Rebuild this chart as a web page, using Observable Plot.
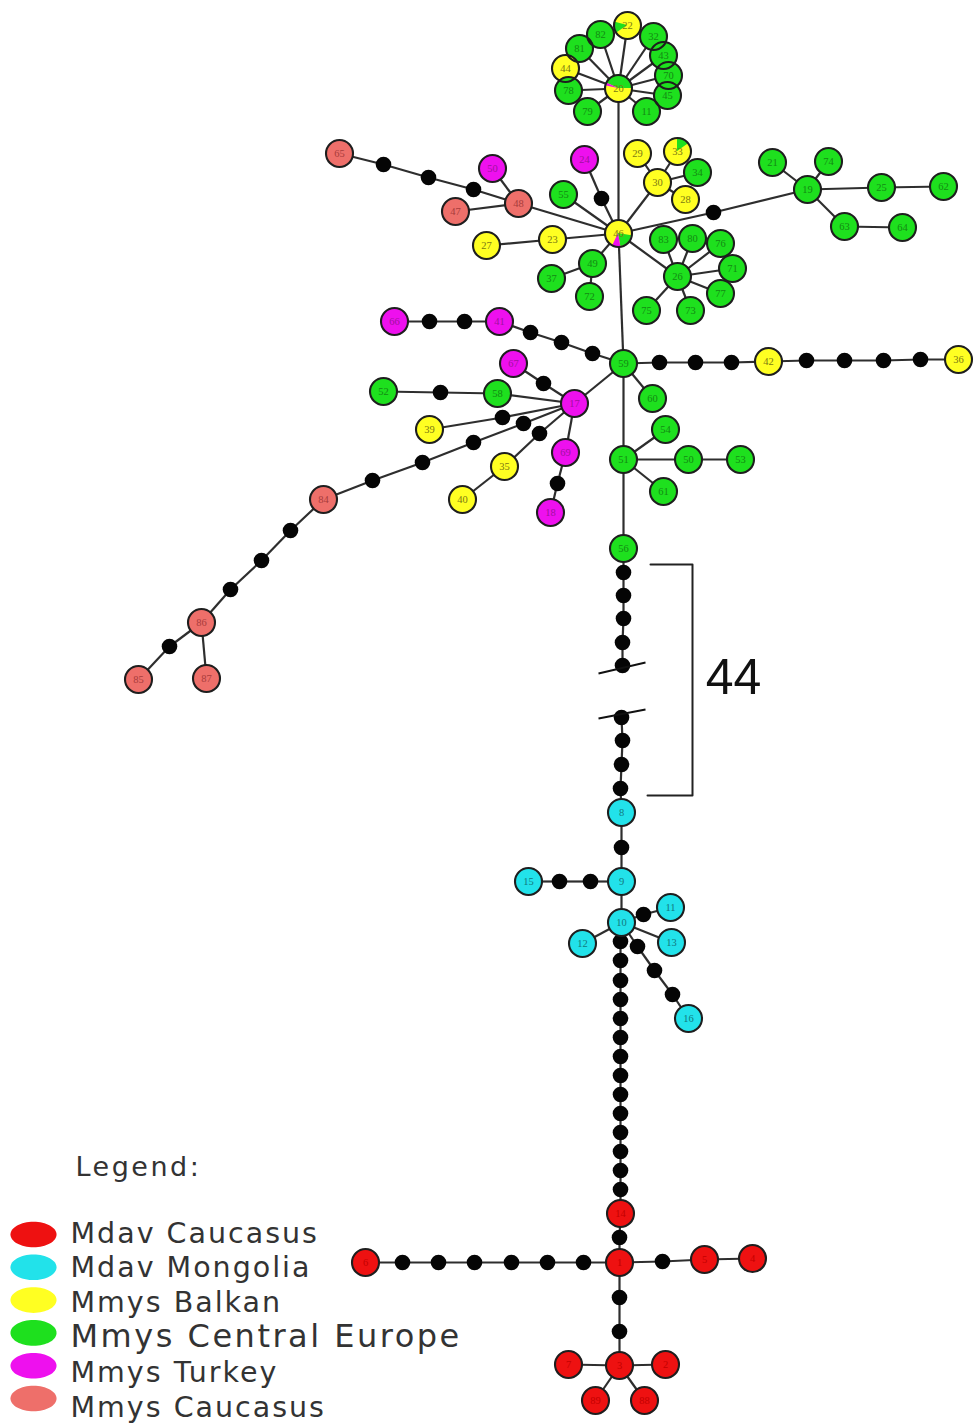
<!DOCTYPE html>
<html><head><meta charset="utf-8">
<script src="https://cdn.jsdelivr.net/npm/d3@7"></script>
<script src="https://cdn.jsdelivr.net/npm/@observablehq/plot@0.6"></script>
<style>body{margin:0;background:#fff}</style>
</head><body><div id="chart"></div>
<script>
// ---- data ----
const groups = ["Mdav Caucasus","Mdav Mongolia","Mmys Balkan","Mmys Central Europe","Mmys Turkey","Mmys Caucasus"];
const groupCodes = ["MC","MM","B","CE","T","C"];
const groupColors = ["#ee1111","#22e2ea","#ffff22","#1ee01e","#ee10ee","#ee6f6a"];
const labelColors = ["#c40000","#127a80","#7c7a12","#138a13","#a010a0","#a83c3c"];

// haplotypes: [id, label, group, x, y]  (layout coordinates)
const haplotypes = [
 ["20","20","B",618,88],["22","22","B",627,25],["82","82","CE",600,34],["81","81","CE",579,48],
 ["44","44","B",565,68],["78","78","CE",568,90],["79","79","CE",587,111],["11g","11","CE",646,111],
 ["45","45","CE",667,95],["70","70","CE",668,75],["43","43","CE",663,55],["32","32","CE",653,36],
 ["46","46","B",618,233],["65","65","C",339,153],["48","48","C",518,203],["50t","50","T",492,168],
 ["47","47","C",455,211],["24","24","T",584,159],["55","55","CE",563,194],["23","23","B",552,239],
 ["27","27","B",486,245],["49","49","CE",592,263],["37","37","CE",551,278],["72","72","CE",589,296],
 ["29","29","B",637,153],["33","33","B",677,151],["30","30","B",657,182],["34","34","CE",697,172],
 ["28","28","B",685,199],["19","19","CE",807,189],["21","21","CE",772,162],["74","74","CE",828,161],
 ["25","25","CE",881,187],["62","62","CE",943,186],["63","63","CE",844,226],["64","64","CE",902,227],
 ["26","26","CE",677,276],["83","83","CE",663,239],["80","80","CE",692,238],["76","76","CE",720,243],
 ["71","71","CE",732,268],["77","77","CE",720,293],["75","75","CE",646,310],["73","73","CE",690,310],
 ["66","66","T",394,321],["41","41","T",499,321],["59","59","CE",623,363],["42","42","B",768,361],
 ["36","36","B",958,359],["60","60","CE",652,398],["67","67","T",513,363],["17","17","T",574,403],
 ["52","52","CE",383,391],["58","58","CE",497,393],["39","39","B",429,429],["35","35","B",504,466],
 ["40","40","B",462,499],["69","69","T",565,452],["18","18","T",550,512],["51","51","CE",623,459],
 ["54","54","CE",665,429],["50","50","CE",688,459],["53","53","CE",740,459],["61","61","CE",663,491],
 ["56","56","CE",623,548],["84","84","C",323,499],["86","86","C",201,622],["85","85","C",138,679],
 ["87","87","C",206,678],
 ["8","8","MM",621,812],["9","9","MM",621,881],["15","15","MM",528,881],["10","10","MM",621,922],
 ["11","11","MM",670,907],["13","13","MM",671,942],["12","12","MM",582,943],["16","16","MM",688,1018],
 ["14","14","MC",620,1213],["1","1","MC",619,1262],["6","6","MC",365,1262],["5","5","MC",704,1259],
 ["4","4","MC",752,1258],["3","3","MC",619,1365],["7","7","MC",568,1364],["2","2","MC",665,1364],
 ["89","89","MC",595,1400],["88","88","MC",644,1400]
];

// median vectors (missing intermediate haplotypes): [id, x, y]
const medianVectors = [
 ["a1",383,164],["a2",428,177],["a3",473,189],["a4",601,198],["a5",713,212],
 ["b1",429,321],["b2",464,321],["b3",530,332],["b4",561,342],["b5",592,353],
 ["c1",659,362],["c2",695,362],["c3",731,362],["c4",806,360],["c5",844,360],["c6",883,360],["c7",920,359],
 ["d1",543,383],["d2",440,392],["d3",502,417],["d5",539,433],["d6",557,483],
 ["e1",523,423],["e2",473,442],["e3",422,462],["e4",372,480],
 ["f1",290,530],["f2",261,560],["f3",230,589],["f4",169,646],
 ["g1",623,572],["g2",623,595],["g3",623,618],["g4",622,642],["g5",622,665],
 ["g6",621,717],["g7",622,740],["g8",621,764],["g9",620,788],
 ["h1",621,847],["h2",590,881],["h3",559,881],["h4",643,914],["h5",637,946],["h6",654,970],["h7",672,994],
 ["v1",620,941],["v2",620,960],["v3",620,980],["v4",620,999],["v5",620,1018],["v6",620,1037],["v7",620,1056],
 ["v8",620,1075],["v9",620,1094],["v10",620,1113],["v11",620,1132],["v12",620,1151],["v13",620,1170],["v14",620,1189],
 ["k1",619,1237],["l1",583,1262],["l2",547,1262],["l3",511,1262],["l4",474,1262],["l5",438,1262],["l6",402,1262],
 ["k2",662,1261],["k3",619,1297],["k4",619,1331]
];

// network edges
const edges = [
 ["20","22"],["20","82"],["20","81"],["20","44"],["20","78"],["20","79"],["20","11g"],["20","45"],["20","70"],["20","43"],["20","32"],["20","46"],
 ["65","a1"],["a1","a2"],["a2","a3"],["a3","48"],["48","50t"],["48","47"],["48","46"],["24","a4"],["a4","46"],
 ["55","46"],["23","46"],["27","23"],["49","46"],["37","49"],["72","49"],
 ["29","30"],["33","30"],["34","30"],["28","30"],["30","46"],["46","a5"],["a5","19"],["19","21"],["19","74"],
 ["19","25"],["25","62"],["19","63"],["63","64"],
 ["26","46"],["26","83"],["26","80"],["26","76"],["26","71"],["26","77"],["26","75"],["26","73"],
 ["46","59"],["66","b1"],["b1","b2"],["b2","41"],["41","b3"],["b3","b4"],["b4","b5"],["b5","59"],
 ["59","c1"],["c1","c2"],["c2","c3"],["c3","42"],["42","c4"],["c4","c5"],["c5","c6"],["c6","c7"],["c7","36"],
 ["59","60"],["59","17"],["67","d1"],["d1","17"],["52","d2"],["d2","58"],["58","17"],["39","d3"],["d3","17"],
 ["17","e1"],["e1","e2"],["e2","e3"],["e3","e4"],["e4","84"],["84","f1"],["f1","f2"],["f2","f3"],["f3","86"],
 ["86","f4"],["f4","85"],["86","87"],["17","d5"],["d5","35"],["35","40"],["17","69"],["69","d6"],["d6","18"],
 ["59","51"],["51","54"],["51","50"],["50","53"],["51","61"],["51","56"],
 ["56","g1"],["g1","g2"],["g2","g3"],["g3","g4"],["g4","g5"],
 ["g6","g7"],["g7","g8"],["g8","g9"],["g9","8"],
 ["8","h1"],["h1","9"],["9","h2"],["h2","h3"],["h3","15"],["9","10"],["10","h4"],["h4","11"],["10","13"],["10","12"],
 ["10","h5"],["h5","h6"],["h6","h7"],["h7","16"],
 ["10","v1"],["v1","v2"],["v2","v3"],["v3","v4"],["v4","v5"],["v5","v6"],["v6","v7"],["v7","v8"],["v8","v9"],
 ["v9","v10"],["v10","v11"],["v11","v12"],["v12","v13"],["v13","v14"],["v14","14"],
 ["14","k1"],["k1","1"],["1","l1"],["l1","l2"],["l2","l3"],["l3","l4"],["l4","l5"],["l5","l6"],["l6","6"],
 ["1","k2"],["k2","5"],["5","4"],["1","k3"],["k3","k4"],["k4","3"],["3","7"],["3","2"],["3","89"],["3","88"]
];

// shared haplotypes: [node id, group, start angle deg, end angle deg]
const pieSlices = [
 ["20","CE",-65,90],["20","T",-78,-65],
 ["22","CE",235,285],
 ["33","CE",0,55],
 ["46","CE",100,170],["46","T",170,205]
];

// hidden run of mutations between Central Europe and Mongolia
const hiddenSteps = 44;
const breakAfter = "g5", breakBefore = "g6", bracketFrom = "g1", bracketTo = "g9";

// ---- build ----
const fillOf = Object.fromEntries(groupCodes.map((c,i)=>[c,groupColors[i]]));
const labelOf = Object.fromEntries(groupCodes.map((c,i)=>[c,labelColors[i]]));
const nodes = new Map();
for (const [id,label,group,x,y] of haplotypes) nodes.set(id,{id,label,group,x,y});
for (const [id,x,y] of medianVectors) nodes.set(id,{id,x,y});
const hapRows = haplotypes.map(d => nodes.get(d[0]));
const mvRows = medianVectors.map(d => nodes.get(d[0]));
const edgeRows = edges.map(([a,b]) => {
  if (!nodes.has(a) || !nodes.has(b)) throw new Error("missing node " + a + " " + b);
  return {a: nodes.get(a), b: nodes.get(b)};
});
const R = 13.5;

const pieMark = (index, scales) => {
  const g = d3.create("svg:g");
  for (const [id, grp, a0, a1] of pieSlices) {
    const n = nodes.get(id);
    const arc = d3.arc().innerRadius(0).outerRadius(R).startAngle(a0*Math.PI/180).endAngle(a1*Math.PI/180);
    g.append("path").attr("d", arc()).attr("fill", fillOf[grp])
      .attr("transform", `translate(${scales.x(n.x)},${scales.y(n.y)})`);
  }
  return g.node();
};

const gA = nodes.get(breakAfter), gB = nodes.get(breakBefore);
const breakRows = [
  {x1: gA.x-24, y1: gA.y+8, x2: gA.x+23, y2: gA.y-3},
  {x1: gB.x-23, y1: gB.y+1, x2: gB.x+24, y2: gB.y-8}
];
const bTop = nodes.get(bracketFrom).y - 8, bBot = nodes.get(bracketTo).y + 7;
const bx = nodes.get(bracketFrom).x + 69;
const bracket = [[bx-42,bTop],[bx,bTop],[bx,bBot],[bx-45,bBot]];

const ellipseSymbol = {
  draw(ctx, size) {
    const r = Math.sqrt(size/Math.PI), rx = r*1.8, ry = r, k = 0.5523;
    ctx.moveTo(rx,0);
    ctx.bezierCurveTo(rx, ry*k, rx*k, ry, 0, ry);
    ctx.bezierCurveTo(-rx*k, ry, -rx, ry*k, -rx, 0);
    ctx.bezierCurveTo(-rx, -ry*k, -rx*k, -ry, 0, -ry);
    ctx.bezierCurveTo(rx*k, -ry, rx, -ry*k, rx, 0);
    ctx.closePath();
  }
};
const legFont = d => d === "Mmys Central Europe" ? 32 : 28.5;

const chart = Plot.plot({
  width: 975, height: 1428, margin: 0,
  x: {domain: [0,975], range: [0,975], axis: null},
  y: {domain: [0,1428], range: [0,1428], axis: null},
  color: {type: "identity"},
  marks: [
    Plot.link(edgeRows, {x1: d=>d.a.x, y1: d=>d.a.y, x2: d=>d.b.x, y2: d=>d.b.y, stroke: "#2e2e2e", strokeWidth: 2.2}),
    Plot.dot(mvRows, {x: "x", y: "y", r: 7.8, fill: "#050505"}),
    Plot.dot(hapRows, {x: "x", y: "y", r: R, fill: d => fillOf[d.group]}),
    pieMark,
    Plot.dot(hapRows, {x: "x", y: "y", r: R, fill: "none", stroke: "#1e1e1e", strokeWidth: 2.1}),
    Plot.text(hapRows, {x: "x", y: "y", text: "label", fill: d => labelOf[d.group], fontSize: 10.5, fontFamily: "Liberation Serif"}),
    Plot.link(breakRows, {x1: "x1", y1: "y1", x2: "x2", y2: "y2", stroke: "#111", strokeWidth: 1.8}),
    Plot.line(bracket, {x: d=>d[0], y: d=>d[1], stroke: "#222", strokeWidth: 2}),
    Plot.text([hiddenSteps], {x: bx+41, y: (bTop+bBot)/2 - 2, text: d => String(d), fontSize: 50, fontFamily: "Liberation Sans", fill: "#111"}),
    Plot.text(["Legend:"], {x: 75, y: 1175 - 0.32*27, text: d=>d, textAnchor: "start", fontSize: 27, fontFamily: "DejaVu Sans", fill: "#333"}),
    Plot.dot(groups, {x: 33, y: (d,i) => 1234 + i*32.8, r: 12.8, symbol: ellipseSymbol, fill: (d,i) => groupColors[i]}),
    Plot.text(groups, {x: 70, y: (d,i) => 1242 + i*34.8 - 0.32*legFont(d), text: d=>d, textAnchor: "start",
      fontSize: legFont, fontFamily: "DejaVu Sans", fill: "#333"})
  ]
});
d3.select(chart).selectAll("text").each(function() {
  const t = this.textContent;
  if (groups.includes(t)) this.style.letterSpacing = t === "Mmys Central Europe" ? "2.5px" : "2px";
  if (t === "Legend:") this.style.letterSpacing = "2.5px";
});
document.getElementById("chart").appendChild(chart);
</script>
</body></html>
